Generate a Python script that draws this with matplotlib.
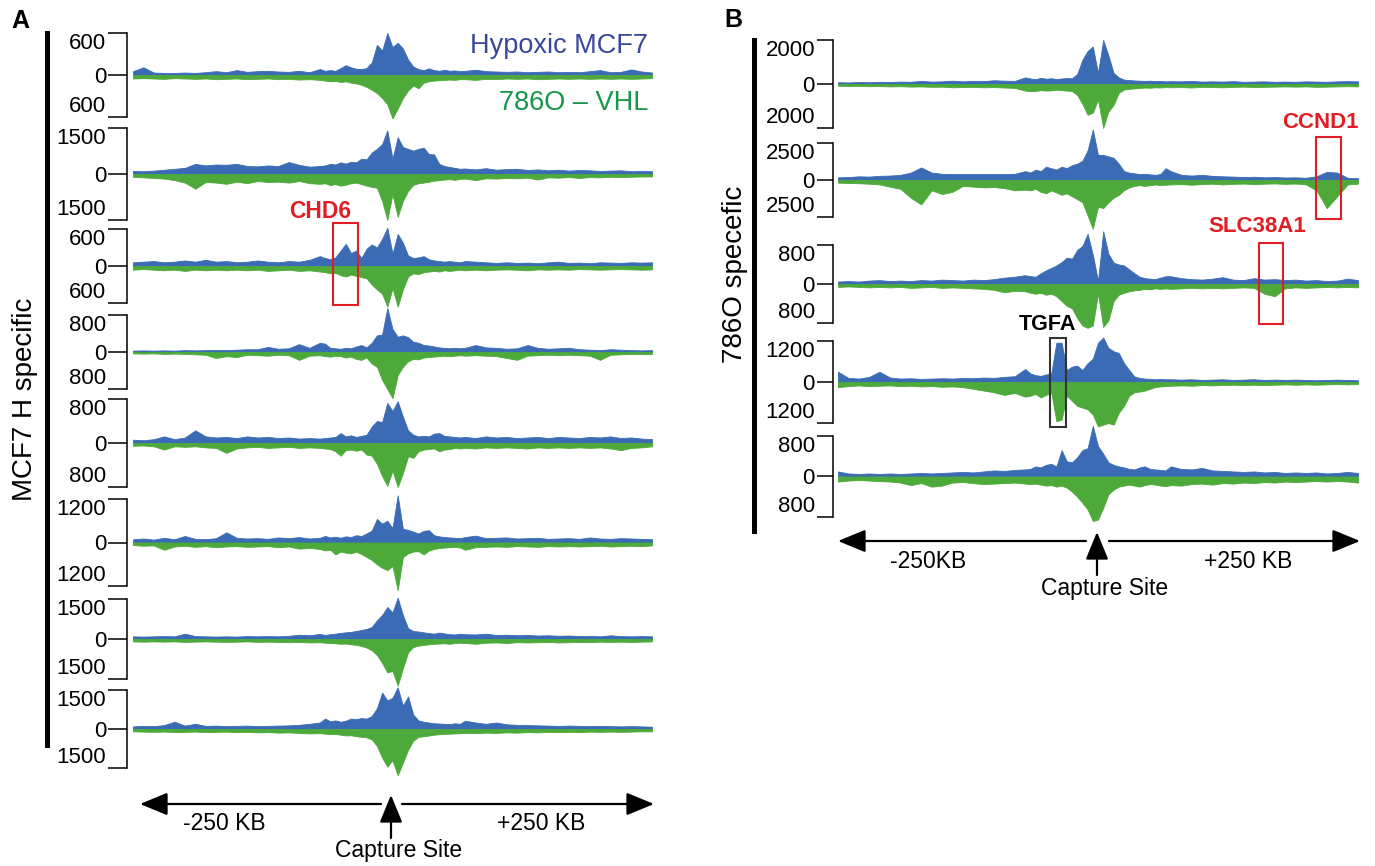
import numpy as np
import matplotlib
matplotlib.use("Agg")
import matplotlib.pyplot as plt
from matplotlib.patches import Rectangle, FancyArrowPatch
from matplotlib.lines import Line2D

plt.rcParams['font.family'] = ['Liberation Sans', 'DejaVu Sans']

W, H = 1375, 866
BLUE = '#3a6bb4'
GREEN = '#4daa3a'
RED = '#e11e23'

# bin centres (kb from the capture site)
kb = [-250, -240, -230, -220, -210, -200, -190, -180, -170, -160, -150, -140, -130, -120, -110, -100, -90, -80, -70,
      -65, -60, -55, -50, -45, -40, -35, -30, -25, -20, -15, -10, -5, 0, 5, 10, 15, 20, 25, 30, 35, 40, 45, 50, 55, 60, 65,
      70, 80, 90, 100, 110, 120, 130, 140, 150, 160, 170, 180, 190, 200, 210, 220, 230, 240, 250]

# ---- panel A : MCF7 hypoxia-specific captures ----
a1_hyp = [55, 110, 35, 30, 30, 35, 30, 40, 55, 40, 70, 45, 55, 60, 50, 45, 60, 40, 85,
          60, 70, 60, 100, 140, 110, 90, 85, 100, 180, 430, 350, 600, 400, 460, 380, 220, 120, 85, 70, 95, 70, 60, 75, 60, 65, 55,
          60, 75, 55, 50, 45, 50, 40, 45, 50, 40, 45, 40, 55, 70, 40, 45, 80, 50, 35]
a1_vhl = [50, 45, 50, 55, 45, 50, 55, 50, 60, 55, 50, 60, 55, 50, 60, 55, 65, 60, 70,
          80, 90, 85, 100, 90, 110, 120, 140, 170, 210, 260, 330, 420, 620, 480, 330, 220, 150, 190, 110, 90, 80, 75, 70, 65, 70, 60,
          60, 70, 55, 60, 50, 55, 50, 60, 55, 50, 55, 50, 55, 50, 55, 50, 55, 50, 45]

a2_hyp = [100, 90, 110, 140, 170, 200, 330, 280, 310, 300, 330, 260, 250, 280, 260, 390, 300, 240, 260,
          280, 330, 310, 380, 340, 400, 380, 500, 480, 700, 820, 980, 1420, 500, 1200, 880, 820, 760, 820, 860, 650, 640, 330, 260, 230, 200, 170,
          180, 150, 190, 140, 160, 170, 130, 150, 120, 140, 110, 130, 120, 100, 110, 120, 90, 100, 90]
a2_vhl = [90, 110, 130, 150, 200, 280, 480, 260, 280, 320, 250, 300, 230, 260, 250, 280, 230, 300, 320,
          300, 360, 330, 380, 350, 300, 280, 330, 380, 420, 450, 880, 1500, 650, 1400, 880, 550, 350, 300, 280, 250, 220, 200, 180, 170, 190, 160,
          150, 200, 140, 150, 130, 140, 120, 180, 110, 120, 100, 130, 100, 110, 90, 100, 90, 80, 80]

a3_hyp = [60, 70, 80, 60, 70, 90, 70, 100, 70, 80, 60, 70, 90, 70, 60, 80, 70, 100, 160,
          130, 110, 140, 250, 360, 210, 250, 130, 280, 350, 300, 440, 620, 200, 520, 380, 170, 130, 140, 160, 110, 90, 80, 70, 80, 70, 60,
          80, 70, 60, 50, 60, 50, 55, 45, 60, 70, 50, 55, 45, 60, 55, 50, 60, 55, 60]
a3_vhl = [60, 50, 60, 70, 60, 80, 60, 70, 60, 70, 60, 70, 60, 80, 70, 60, 80, 70, 90,
          100, 120, 110, 150, 170, 140, 160, 180, 200, 300, 380, 450, 660, 360, 660, 380, 170, 120, 130, 100, 90, 80, 90, 70, 80, 70, 60,
          70, 60, 70, 60, 55, 60, 70, 55, 60, 55, 60, 50, 55, 60, 55, 50, 55, 60, 55]

a4_hyp = [30, 35, 30, 35, 30, 40, 35, 40, 45, 40, 50, 60, 60, 110, 70, 80, 170, 90, 200,
          180, 90, 80, 70, 90, 80, 120, 150, 100, 200, 360, 380, 950, 500, 330, 360, 320, 220, 200, 150, 140, 120, 100, 90, 80, 90, 80,
          90, 150, 100, 90, 70, 80, 150, 90, 70, 80, 90, 60, 50, 40, 60, 50, 40, 35, 40]
a4_vhl = [30, 35, 30, 40, 35, 40, 50, 60, 130, 90, 110, 60, 70, 80, 60, 70, 170, 80, 70,
          90, 100, 80, 90, 120, 100, 150, 170, 120, 250, 320, 600, 800, 1000, 500, 320, 200, 150, 160, 120, 110, 100, 90, 80, 90, 80, 70,
          80, 70, 80, 90, 130, 170, 80, 70, 60, 70, 60, 70, 80, 170, 60, 50, 40, 45, 40]

a5_hyp = [60, 50, 70, 120, 70, 100, 230, 120, 100, 110, 90, 120, 100, 110, 90, 100, 80, 90, 80,
          90, 100, 110, 180, 120, 140, 110, 130, 150, 300, 400, 380, 730, 580, 760, 480, 230, 150, 120, 130, 120, 170, 180, 130, 120, 110, 100,
          110, 90, 120, 100, 110, 90, 100, 110, 90, 110, 100, 90, 110, 100, 120, 90, 100, 80, 70]
a5_vhl = [50, 45, 60, 120, 60, 70, 60, 80, 90, 180, 100, 80, 70, 90, 80, 70, 90, 80, 90,
          100, 110, 150, 230, 130, 120, 140, 120, 210, 230, 380, 600, 780, 500, 800, 550, 240, 270, 150, 120, 110, 100, 150, 120, 110, 90, 100,
          90, 100, 80, 90, 80, 90, 100, 80, 90, 80, 90, 80, 90, 80, 100, 130, 90, 80, 60]

a6_hyp = [90, 110, 80, 130, 90, 180, 100, 90, 120, 280, 130, 110, 120, 100, 140, 120, 150, 110, 130,
          180, 140, 160, 130, 170, 150, 200, 180, 250, 330, 650, 520, 600, 400, 1300, 380, 350, 300, 250, 320, 340, 200, 170, 150, 140, 130, 120,
          150, 190, 120, 130, 140, 110, 120, 130, 100, 110, 120, 100, 140, 110, 100, 120, 110, 100, 90]
a6_vhl = [70, 90, 80, 200, 110, 90, 120, 100, 130, 110, 100, 120, 110, 100, 130, 110, 170, 150, 180,
          220, 200, 330, 250, 280, 300, 250, 320, 400, 480, 600, 700, 760, 650, 1320, 400, 300, 250, 240, 330, 220, 180, 150, 140, 130, 120, 140,
          200, 130, 120, 110, 120, 100, 110, 120, 100, 110, 100, 110, 100, 90, 110, 100, 90, 100, 80]

a7_hyp = [100, 90, 100, 110, 100, 200, 110, 100, 90, 100, 90, 110, 100, 110, 100, 120, 160, 140, 190,
          150, 180, 200, 230, 250, 270, 300, 340, 380, 450, 700, 900, 1200, 1000, 1550, 900, 400, 300, 280, 250, 220, 200, 240, 210, 180, 170, 200,
          180, 170, 200, 150, 160, 140, 150, 130, 140, 120, 130, 110, 120, 100, 140, 110, 100, 110, 100]
a7_vhl = [90, 100, 90, 100, 90, 110, 100, 90, 100, 110, 100, 90, 110, 100, 110, 120, 110, 130, 120,
          140, 150, 160, 180, 170, 200, 220, 260, 320, 420, 600, 900, 1250, 1200, 1750, 1100, 500, 300, 250, 220, 200, 180, 170, 160, 180, 150, 140,
          150, 180, 140, 130, 150, 120, 130, 120, 110, 130, 120, 110, 120, 100, 110, 100, 110, 100, 90]

a8_hyp = [100, 120, 110, 150, 280, 130, 200, 120, 130, 110, 120, 130, 110, 120, 130, 140, 160, 200, 250,
          400, 300, 330, 280, 320, 400, 380, 420, 400, 500, 800, 1400, 1100, 1200, 1600, 900, 1250, 550, 330, 280, 250, 220, 210, 200, 190, 220, 200,
          320, 250, 200, 250, 180, 160, 150, 140, 130, 120, 130, 120, 110, 120, 110, 100, 110, 100, 90]
a8_vhl = [90, 100, 110, 100, 120, 110, 100, 120, 110, 100, 120, 110, 130, 120, 140, 130, 150, 170, 160,
          180, 200, 190, 220, 250, 240, 280, 300, 320, 400, 650, 1100, 1450, 1200, 1780, 1300, 800, 450, 300, 280, 250, 220, 200, 190, 180, 170, 160,
          150, 160, 140, 150, 130, 140, 120, 130, 110, 120, 110, 120, 100, 110, 100, 110, 100, 90, 90]

# ---- panel B : 786O-specific captures ----
b1_hyp = [80, 70, 90, 80, 100, 90, 110, 100, 140, 110, 120, 150, 120, 140, 130, 170, 150, 140, 300,
          250, 220, 280, 240, 260, 230, 250, 270, 260, 450, 1100, 1500, 1700, 500, 2000, 1300, 500, 300, 200, 180, 160, 150, 140, 150, 130, 140, 120,
          130, 120, 140, 110, 120, 110, 130, 100, 110, 120, 100, 110, 100, 120, 110, 100, 120, 130, 120]
b1_vhl = [80, 90, 80, 100, 90, 110, 100, 120, 110, 130, 120, 150, 140, 130, 150, 140, 160, 180, 300,
          330, 310, 280, 300, 290, 260, 280, 300, 320, 500, 900, 1400, 1300, 700, 2000, 1250, 950, 400, 250, 220, 200, 180, 160, 170, 150, 160, 140,
          150, 140, 160, 130, 140, 150, 130, 120, 140, 130, 120, 110, 120, 110, 130, 120, 110, 100, 110]

b2_hyp = [180, 200, 250, 230, 280, 300, 350, 500, 850, 500, 420, 400, 400, 400, 400, 400, 400, 420, 600,
          500, 700, 600, 900, 800, 700, 900, 800, 1000, 1100, 1300, 2000, 3400, 1700, 1700, 1600, 1500, 1100, 600, 500, 450, 400, 420, 380, 350, 400, 800,
          600, 350, 300, 350, 280, 250, 230, 200, 220, 180, 200, 170, 180, 150, 250, 550, 500, 150, 120]
b2_vhl = [180, 200, 220, 250, 300, 450, 600, 1200, 1650, 700, 950, 800, 400, 450, 500, 480, 550, 700, 650,
          700, 600, 800, 900, 700, 850, 1000, 900, 1100, 1300, 1500, 2400, 3300, 1800, 1900, 1500, 1200, 1000, 700, 500, 400, 350, 400, 350, 300, 350, 320,
          300, 280, 320, 280, 250, 300, 260, 240, 280, 250, 230, 260, 240, 300, 700, 1900, 1100, 300, 250]

b3_hyp = [50, 60, 50, 70, 80, 60, 70, 60, 80, 70, 90, 80, 70, 90, 80, 100, 130, 150, 180,
          160, 150, 220, 280, 330, 380, 450, 540, 520, 700, 780, 1030, 600, 60, 1080, 620, 440, 400, 380, 300, 220, 150, 120, 110, 100, 130, 160,
          160, 120, 100, 90, 110, 140, 90, 80, 120, 90, 100, 80, 90, 70, 80, 60, 70, 110, 80]
b3_vhl = [60, 50, 60, 70, 60, 70, 60, 80, 70, 60, 80, 70, 80, 90, 100, 120, 170, 140, 150,
          180, 200, 180, 220, 200, 250, 350, 450, 500, 700, 850, 900, 850, 200, 880, 750, 350, 220, 180, 150, 130, 120, 100, 110, 90, 100, 90,
          100, 90, 80, 90, 80, 90, 80, 70, 80, 200, 250, 90, 70, 80, 70, 60, 70, 60, 70]

b4_hyp = [300, 120, 100, 150, 300, 130, 100, 110, 90, 100, 110, 100, 120, 110, 130, 120, 150, 170, 380,
          250, 200, 180, 220, 250, 1150, 1150, 350, 450, 480, 350, 550, 680, 1150, 1300, 1000, 900, 850, 550, 350, 160, 120, 100, 90, 80, 90, 80,
          80, 70, 80, 60, 70, 80, 60, 70, 80, 60, 70, 60, 70, 60, 50, 60, 70, 60, 50]
b4_vhl = [150, 120, 100, 120, 110, 100, 120, 110, 130, 120, 140, 130, 150, 200, 250, 300, 380, 320, 430,
          400, 350, 450, 380, 300, 1150, 1100, 400, 550, 700, 750, 800, 950, 1300, 1250, 1200, 1250, 900, 700, 400, 300, 280, 250, 200, 150, 130, 120,
          110, 100, 110, 90, 100, 90, 80, 90, 80, 90, 80, 70, 80, 70, 80, 70, 60, 70, 60]

b5_hyp = [100, 60, 50, 60, 50, 60, 50, 60, 70, 60, 70, 80, 90, 80, 100, 120, 110, 130, 140,
          150, 200, 180, 230, 250, 200, 520, 300, 280, 380, 520, 560, 1000, 600, 450, 280, 230, 200, 180, 150, 140, 180, 200, 150, 140, 130, 120,
          200, 150, 140, 170, 120, 110, 100, 90, 100, 80, 90, 70, 80, 70, 80, 60, 70, 90, 70]
b5_vhl = [100, 80, 70, 80, 90, 100, 120, 170, 130, 200, 180, 120, 110, 130, 150, 140, 130, 120, 140,
          150, 140, 160, 180, 170, 200, 180, 220, 300, 400, 520, 650, 880, 850, 620, 350, 260, 200, 180, 160, 180, 200, 170, 150, 160, 180, 190,
          170, 180, 150, 140, 160, 130, 140, 120, 130, 110, 120, 100, 110, 100, 90, 100, 90, 100, 120]

a_scale = [600, 1500, 600, 800, 800, 1200, 1500, 1500]
b_scale = [2000, 2500, 800, 1200, 800]
a_tracks = [(a1_hyp, a1_vhl), (a2_hyp, a2_vhl), (a3_hyp, a3_vhl), (a4_hyp, a4_vhl),
            (a5_hyp, a5_vhl), (a6_hyp, a6_vhl), (a7_hyp, a7_vhl), (a8_hyp, a8_vhl)]
b_tracks = [(b1_hyp, b1_vhl), (b2_hyp, b2_vhl), (b3_hyp, b3_vhl), (b4_hyp, b4_vhl), (b5_hyp, b5_vhl)]

# vertical pixel extent (top tick, bottom tick) of every track
a_rows = [(33, 117), (128, 220), (229, 303), (315, 389), (399, 487), (499, 586), (599, 679), (690, 768)]
b_rows = [(40, 128), (143, 217), (245, 323), (341, 423), (436, 517)]


def fx(x):
    return x / W


def fy(y):
    return 1 - y / H


fig = plt.figure(figsize=(W / 100, H / 100), dpi=100)


def draw_track(left, right, top, bottom, hyp, vhl, ymax, gap, ticklen):
    ax = fig.add_axes([fx(left), fy(bottom), (right - left) / W, (bottom - top) / H])
    ax.fill_between(kb, 0, hyp, color=BLUE, lw=0.6, clip_on=False)
    ax.fill_between(kb, 0, -np.array(vhl), color=GREEN, lw=0.6, clip_on=False)
    ax.set_xlim(-250, 250)
    ax.set_ylim(-ymax, ymax)
    for s in ['top', 'right', 'bottom']:
        ax.spines[s].set_visible(False)
    ax.spines['left'].set_position(('outward', gap * 0.72))
    ax.spines['left'].set_linewidth(1.1)
    ax.set_yticks([-ymax, 0, ymax])
    labels = ax.set_yticklabels([str(ymax), '0', str(ymax)])
    # end labels sit inside the bracket, like a scale bar
    labels[0].set_va('bottom')
    labels[2].set_va('top')
    ax.tick_params(axis='y', length=ticklen, width=1.1, pad=1.5, labelsize=16)
    ax.set_xticks([])
    ax.patch.set_visible(False)
    return ax


for (hyp, vhl), ymax, (t, b) in zip(a_tracks, a_scale, a_rows):
    draw_track(133, 652, t, b, hyp, vhl, ymax, 6, 13.5)
for (hyp, vhl), ymax, (t, b) in zip(b_tracks, b_scale, b_rows):
    draw_track(838, 1358, t, b, hyp, vhl, ymax, 5, 11.5)


def arrow(x0, y0, x1, y1):
    fig.add_artist(FancyArrowPatch((fx(x0), fy(y0)), (fx(x1), fy(y1)), transform=fig.transFigure,
                                   arrowstyle='-|>,head_length=0.85,head_width=0.35', mutation_scale=20,
                                   lw=1.6, color='k', shrinkA=0, shrinkB=0))


def box(l, t, r, b, color):
    fig.add_artist(Rectangle((fx(l), fy(b)), (r - l) / W, (b - t) / H, transform=fig.transFigure,
                             fill=False, ec=color, lw=1.5))


# side bars
fig.add_artist(Line2D([fx(47), fx(47)], [fy(33), fy(745)], lw=3.6, color='k'))
fig.add_artist(Line2D([fx(754), fx(754)], [fy(40), fy(531)], lw=3.6, color='k'))

# panel letters and side labels
fig.text(fx(11), fy(21), 'A', fontsize=18, fontweight='bold', va='center')
fig.text(fx(724), fy(20), 'B', fontsize=18, fontweight='bold', va='center')
fig.text(fx(25), fy(399), 'MCF7 H specific', fontsize=20, rotation=90, ha='center', va='center')
fig.text(fx(735), fy(274), '786O specefic', fontsize=20, rotation=90, ha='center', va='center')

# legend text
fig.text(fx(648), fy(46), 'Hypoxic MCF7', fontsize=19.5, color='#38489b', ha='right', va='center')
fig.text(fx(648), fy(103), '786O \u2013 VHL', fontsize=19.5, color='#18964a', ha='right', va='center')

# gene call-outs
fig.text(fx(320), fy(211), 'CHD6', fontsize=16.5, fontweight='bold', color=RED, ha='center', va='center')
box(333, 223, 358, 305, RED)
fig.text(fx(1320), fy(123), 'CCND1', fontsize=16, fontweight='bold', color=RED, ha='center', va='center')
box(1316, 137, 1341, 219, RED)
fig.text(fx(1257), fy(227), 'SLC38A1', fontsize=16, fontweight='bold', color=RED, ha='center', va='center')
box(1259, 243, 1283, 324, RED)
fig.text(fx(1047), fy(325), 'TGFA', fontsize=15.5, fontweight='bold', color='k', ha='center', va='center')
box(1050, 338, 1066, 427, '#333333')

# distance arrows, panel A
arrow(381, 804, 140, 804)
arrow(402, 804, 654, 804)
arrow(391, 838, 391, 795)
fig.text(fx(224), fy(824), '-250 KB', fontsize=16.5, ha='center', va='center')
fig.text(fx(541), fy(824), '+250 KB', fontsize=16.5, ha='center', va='center')
fig.text(fx(399), fy(851), 'Capture Site', fontsize=16.5, ha='center', va='center')

# distance arrows, panel B
arrow(1086, 541, 838, 541)
arrow(1109, 541, 1360, 541)
arrow(1097, 575, 1097, 532)
fig.text(fx(928), fy(562), '-250KB', fontsize=16.5, ha='center', va='center')
fig.text(fx(1248), fy(562), '+250 KB', fontsize=16.5, ha='center', va='center')
fig.text(fx(1105), fy(589), 'Capture Site', fontsize=16.5, ha='center', va='center')

fig.savefig('out.png', dpi=100)
